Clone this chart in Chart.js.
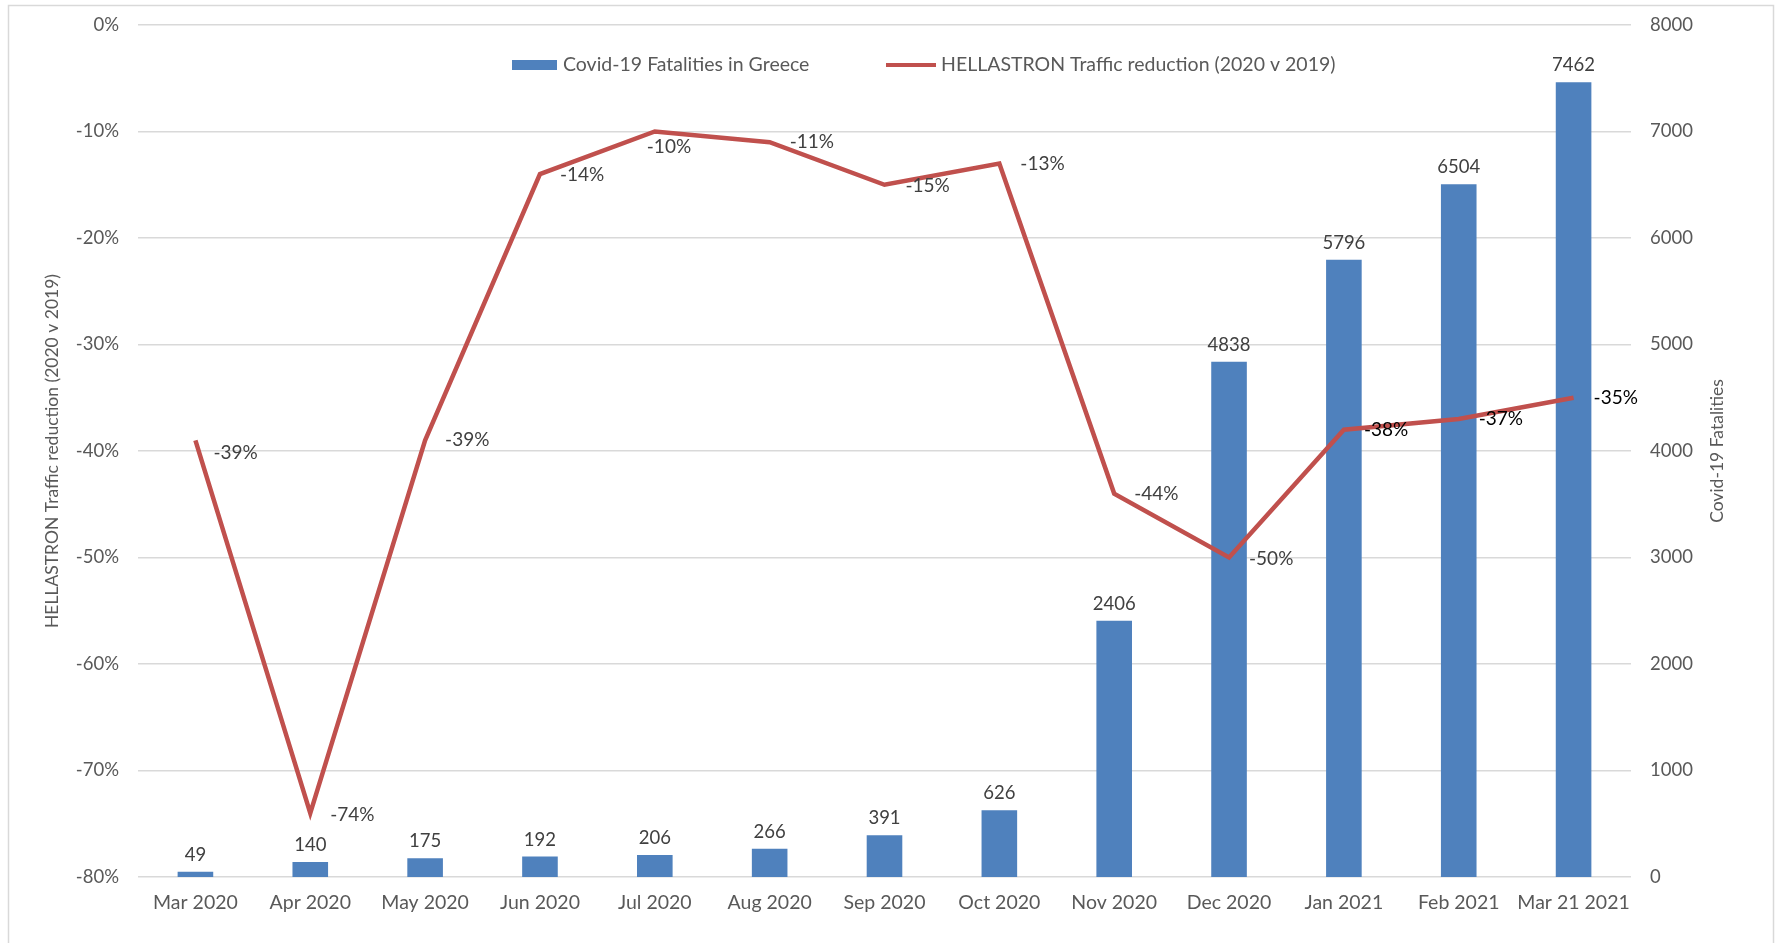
<!doctype html>
<html lang="en">
  <head>
    <meta charset="utf-8">
    <style>
      * {
        margin: 0;
        padding: 0;
      }
      body {
        background: #fff;
      }
      .chartBox {
        width: 1775px;
        height: 943px;
      }
    </style>
  </head>
  <body>
    <div class="chartBox">
      <canvas id="myChart" width="1775" height="943"></canvas>
    </div>
    <script src="https://cdn.jsdelivr.net/npm/chart.js/dist/chart.umd.min.js"></script>
    <script>
    // data
    const months = ['Mar 2020', 'Apr 2020', 'May 2020', 'Jun 2020', 'Jul 2020', 'Aug 2020', 'Sep 2020',
      'Oct 2020', 'Nov 2020', 'Dec 2020', 'Jan 2021', 'Feb 2021', 'Mar 21 2021'];
    const fatalities = [49, 140, 175, 192, 206, 266, 391, 626, 2406, 4838, 5796, 6504, 7462];
    const traffic = [-39, -74, -39, -14, -10, -11, -15, -13, -44, -50, -38, -37, -35];

    const FONT = 'Lato, "Open Sans", sans-serif';
    const GREY = '#595959';

    // light frame round the chart
    const frame = {
      id: 'frame',
      beforeDraw(chart) {
        const { ctx } = chart;
        ctx.save();
        ctx.fillStyle = '#fff';
        ctx.fillRect(0, 0, chart.width, chart.height);
        ctx.strokeStyle = '#D9D9D9';
        ctx.lineWidth = 1.5;
        ctx.strokeRect(8.5, 5.5, chart.width - 10, chart.height - 4);
        ctx.restore();
      }
    };

    // value labels on bars and line
    const lineLabelPos = [
      [18, 13], [20, 2], [20, 0], [20, 1], [-8, 15], [20, 0], [21, 1],
      [21, 0], [20, 0], [20, 1], [20, 0], [20, 0], [20, 0]
    ];
    const valueLabels = {
      id: 'valueLabels',
      afterDatasetsDraw(chart) {
        const { ctx } = chart;
        ctx.save();
        ctx.textBaseline = 'middle';

        const barMeta = chart.getDatasetMeta(1);
        ctx.font = '18.5px ' + FONT;
        ctx.textAlign = 'center';
        ctx.fillStyle = '#404040';
        barMeta.data.forEach((bar, i) => {
          ctx.fillText(fatalities[i], bar.x, bar.y - 17);
        });

        const lineMeta = chart.getDatasetMeta(0);
        ctx.font = '19px ' + FONT;
        ctx.textAlign = 'left';
        lineMeta.data.forEach((pt, i) => {
          const [dx, dy] = lineLabelPos[i];
          ctx.fillStyle = i >= 10 ? '#000' : '#404040';
          ctx.fillText(traffic[i] + '%', pt.x + dx, pt.y + dy);
        });
        ctx.restore();
      }
    };

    // legend inside the plot area + right axis title read bottom-to-top
    const extras = {
      id: 'extras',
      afterDraw(chart) {
        const { ctx, chartArea } = chart;
        const y = 65;
        ctx.save();
        ctx.font = '19.5px ' + FONT;
        ctx.textBaseline = 'middle';
        ctx.textAlign = 'left';

        ctx.fillStyle = '#4F81BD';
        ctx.fillRect(512, y - 5, 45, 10);
        ctx.fillStyle = GREY;
        ctx.fillText(chart.data.datasets[1].label, 563, y);

        ctx.strokeStyle = '#C0504D';
        ctx.lineWidth = 4;
        ctx.beginPath();
        ctx.moveTo(886, y);
        ctx.lineTo(936, y);
        ctx.stroke();
        ctx.fillText(chart.data.datasets[0].label, 941, y);

        ctx.font = '17.5px ' + FONT;
        ctx.textAlign = 'center';
        ctx.translate(1717, (chartArea.top + chartArea.bottom) / 2);
        ctx.rotate(-Math.PI / 2);
        ctx.fillText('Covid-19 Fatalities', 0, 0);
        ctx.restore();
      }
    };

    const config = {
      type: 'bar',
      data: {
        labels: months,
        datasets: [{
          type: 'line',
          label: 'HELLASTRON Traffic reduction (2020 v 2019)',
          data: traffic,
          yAxisID: 'yTraffic',
          borderColor: '#C0504D',
          backgroundColor: '#C0504D',
          borderWidth: 4.5,
          pointRadius: 0,
          tension: 0,
          order: 0
        }, {
          type: 'bar',
          label: 'Covid-19 Fatalities in Greece',
          data: fatalities,
          yAxisID: 'yDeaths',
          backgroundColor: '#4F81BD',
          categoryPercentage: 1,
          barPercentage: 0.31,
          order: 1
        }]
      },
      options: {
        responsive: false,
        animation: false,
        layout: {
          padding: { top: 25, left: 0, right: 0, bottom: 0 }
        },
        scales: {
          x: {
            grid: { display: false },
            border: { display: false },
            ticks: {
              color: GREY,
              font: { family: FONT, size: 19.5 },
              padding: 6,
              maxRotation: 0,
              autoSkip: false
            },
            afterFit(scale) { scale.height = 66; }
          },
          yTraffic: {
            position: 'left',
            min: -80,
            max: 0,
            ticks: {
              stepSize: 10,
              color: GREY,
              font: { family: FONT, size: 18.5 },
              padding: 3,
              callback: (v) => v + '%'
            },
            grid: { color: '#D9D9D9', lineWidth: 1.5, drawTicks: true, tickLength: 16, tickColor: 'rgba(0,0,0,0)' },
            border: { display: false },
            title: {
              display: true,
              text: 'HELLASTRON Traffic reduction (2020 v 2019)',
              color: GREY,
              font: { family: FONT, size: 17.5 },
              padding: { top: 42, bottom: 0 }
            },
            afterFit(scale) { scale.width = 138; }
          },
          yDeaths: {
            position: 'right',
            min: 0,
            max: 8000,
            ticks: {
              stepSize: 1000,
              color: GREY,
              font: { family: FONT, size: 18.5 },
              padding: 3,
              callback: (v) => String(v)
            },
            grid: { display: false, drawTicks: true, tickLength: 16 },
            border: { display: false },
            afterFit(scale) { scale.width = 144; }
          }
        },
        plugins: {
          legend: { display: false },
          tooltip: { enabled: false }
        }
      },
      plugins: [frame, valueLabels, extras]
    };

    const myChart = new Chart(document.getElementById('myChart'), config);
    </script>
  </body>
</html>
